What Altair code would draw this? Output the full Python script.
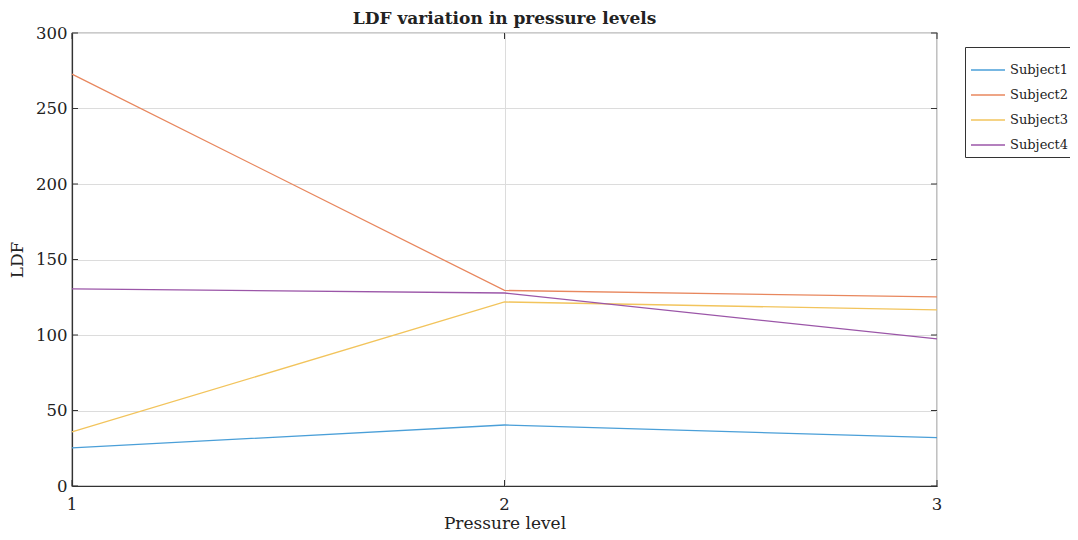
import altair as alt
import pandas as pd

levels = [1, 2, 3]
subjects = ["Subject1", "Subject2", "Subject3", "Subject4"]
subject1 = [25.2, 40.4, 32.0]
subject2 = [272.8, 129.5, 125.2]
subject3 = [35.8, 121.9, 116.6]
subject4 = [130.5, 127.8, 97.4]
colors = ["#4a9fd8", "#e8875e", "#f2c45c", "#9b56a8"]
y_ticks = [0, 50, 100, 150, 200, 250, 300]
x_ticks = [1, 2, 3]
x_tick_labels = ["1", "2", "3"]

rows = []
for name, vals in zip(subjects, [subject1, subject2, subject3, subject4]):
    for lv, v in zip(levels, vals):
        rows.append({"subject": name, "level": lv, "ldf": v})
df = pd.DataFrame(rows)

W, H = 865, 453
FONT = "DejaVu Serif"

xscale = alt.Scale(domain=[1, 3], nice=False, zero=False)
yscale = alt.Scale(domain=[0, 300], nice=False)

x_axis = alt.Axis(values=x_ticks, grid=True, gridColor="#dcdcdc", labels=False,
                  tickSize=0, titlePadding=29, domainColor="#333333", domainWidth=1.2)
y_axis = alt.Axis(values=y_ticks, grid=True, gridColor="#dcdcdc",
                  tickSize=0, labelPadding=5, titlePadding=9,
                  domainColor="#333333", domainWidth=1.2)

lines = alt.Chart(df).mark_line(strokeWidth=1.3).encode(
    x=alt.X("level:Q", scale=xscale, title="Pressure level", axis=x_axis),
    y=alt.Y("ldf:Q", scale=yscale, title="LDF", axis=y_axis),
    color=alt.Color("subject:N", scale=alt.Scale(domain=subjects, range=colors),
                    legend=alt.Legend(title=None, orient="none", legendX=893, legendY=14,
                                      symbolType="stroke", symbolSize=1156,
                                      symbolStrokeWidth=1.5, labelFont=FONT,
                                      labelFontSize=13, labelColor="#222222",
                                      rowPadding=-2, padding=5, strokeColor="#333333",
                                      fillColor="white", labelOffset=4)),
)

tick_df = pd.DataFrame({"v": y_ticks})
ytick_left = alt.Chart(tick_df).mark_rule(color="#333333", strokeWidth=1).encode(
    y=alt.Y("v:Q", scale=yscale, title="LDF", axis=y_axis), x=alt.value(0), x2=alt.value(6))
ytick_right = alt.Chart(tick_df).mark_rule(color="#333333", strokeWidth=1).encode(
    y=alt.Y("v:Q", scale=yscale, title="LDF", axis=y_axis), x=alt.value(W - 6), x2=alt.value(W))

xt_df = pd.DataFrame({"v": x_ticks, "lab": x_tick_labels})
xtick_bottom = alt.Chart(xt_df).mark_rule(color="#333333", strokeWidth=1).encode(
    x=alt.X("v:Q", scale=xscale, title="Pressure level", axis=x_axis), y=alt.value(H - 6), y2=alt.value(H))
xtick_top = alt.Chart(xt_df).mark_rule(color="#333333", strokeWidth=1).encode(
    x=alt.X("v:Q", scale=xscale, title="Pressure level", axis=x_axis), y=alt.value(0), y2=alt.value(6))
xlabels = alt.Chart(xt_df).mark_text(font=FONT, fontSize=16.5, color="#222222",
                                     baseline="middle", align="center").encode(
    x=alt.X("v:Q", scale=xscale, title="Pressure level", axis=x_axis),
    y=alt.value(H + 19), text="lab:N")

chart = alt.layer(lines, ytick_left, ytick_right, xtick_bottom, xtick_top, xlabels).properties(
    width=W, height=H,
    title=alt.TitleParams("LDF variation in pressure levels", font=FONT, fontSize=17,
                          fontWeight="bold", color="#222222", offset=8, dy=11, anchor="middle"),
    autosize=alt.AutoSizeParams(type="none"),
    padding={"left": 64, "top": 25, "right": 133, "bottom": 46},
).configure_view(stroke="#333333", strokeWidth=1.2).configure_axis(
    labelFont=FONT, titleFont=FONT, labelFontSize=16.5, titleFontSize=17,
    labelColor="#222222", titleColor="#222222", titleFontWeight="normal",
)

chart.save("out.html", embed_options={"renderer": "svg", "actions": False})
